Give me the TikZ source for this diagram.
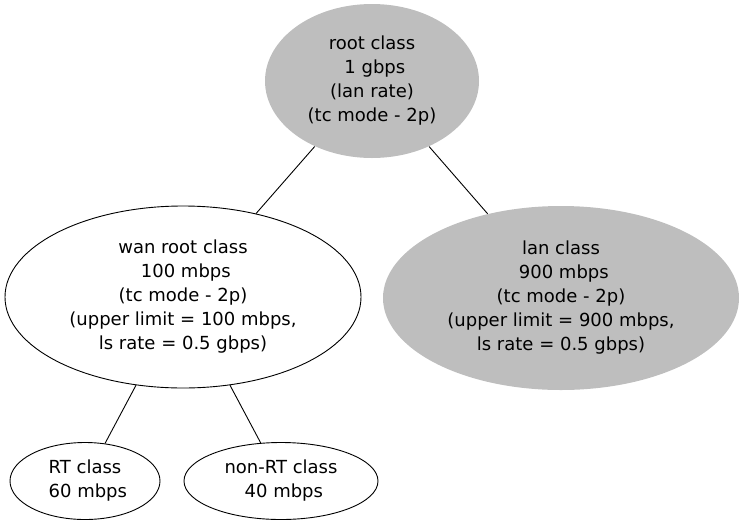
\documentclass[tikz,border=0pt]{standalone}
\usepackage{fontspec}
\setmainfont{DejaVu Sans}
\usetikzlibrary{
  shapes.geometric,
  positioning,
}
\definecolor{classgray}{HTML}{BEBEBE}
\tikzset{
  class/.style={
    ellipse,
    inner sep=0pt,
    align=center,
    draw=black,
    line width=0.9pt,
    font=\fontsize{18}{24}\selectfont,
  },
  shaded/.style={
    class,
    draw=none,
    fill=classgray,
  },
  link/.style={
    line width=0.9pt,
  },
}
\begin{document}
\begin{tikzpicture}[
    x=1pt, y=-1pt,
  ]
  \useasboundingbox (0,0) rectangle (744,528);

  % Root
  \node (root) [shaded, minimum width=214pt, minimum height=154pt]
    at (372,81) {root class\\~1 gbps\\(lan rate)\\(tc mode - 2p)};

  % Second level
  \node (wan) [class, minimum width=356pt, minimum height=182pt]
    at (183,297) {wan root class\\~100 mbps\\(tc mode - 2p)\\(upper limit = 100 mbps,\\ls rate = 0.5 gbps)};
  \node (lan) [shaded, minimum width=356pt, minimum height=184pt]
    at (561,298) {lan class\\~900 mbps\\(tc mode - 2p)\\(upper limit = 900 mbps,\\ls rate = 0.5 gbps)};

  % Leaves
  \node (rt) [class, minimum width=150pt, minimum height=77pt]
    at (85,481) {RT class\\~60 mbps};
  \node (nonrt) [class, minimum width=194pt, minimum height=77pt]
    at (281,481) {non-RT class\\~40 mbps};

  % Links
  \draw [link] (root) -- (wan);
  \draw [link] (root) -- (lan);
  \draw [link] (wan) -- (rt);
  \draw [link] (wan) -- (nonrt);

\end{tikzpicture}
\end{document}
